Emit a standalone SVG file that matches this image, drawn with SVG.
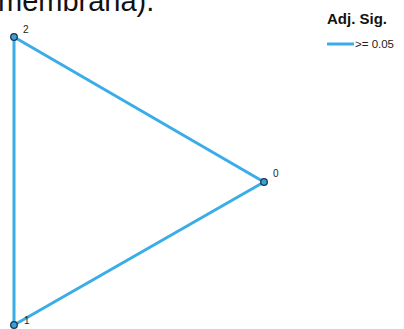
<svg xmlns="http://www.w3.org/2000/svg" width="404" height="329" viewBox="0 0 404 329">
<style>
.edge{stroke:#3aade8;stroke-width:3;fill:none;stroke-linecap:butt}
.node{fill:#3d9fd8;stroke:#1c3550;stroke-width:1.3}
.lbl{font-family:"Liberation Sans",Arial,sans-serif;font-size:10px;fill:#222}
</style>
<rect width="404" height="329" fill="#fff"/>
<text x="-2" y="11" font-family="Liberation Sans,Arial,sans-serif" font-size="29" fill="#111">membrana).</text>
<g id="edges">
<line class="edge" x1="14" y1="37" x2="264" y2="182"/>
<line class="edge" x1="14" y1="37" x2="14" y2="325"/>
<line class="edge" x1="264" y1="182" x2="14" y2="325"/>
</g>
<g id="node-2"><circle class="node" cx="14" cy="37" r="3.3"/><text class="lbl" x="23" y="33">2</text></g>
<g id="node-0"><circle class="node" cx="264" cy="182" r="3.3"/><text class="lbl" x="273" y="177">0</text></g>
<g id="node-1"><circle class="node" cx="14" cy="325" r="3.3"/><text class="lbl" x="24" y="324">1</text></g>
<g id="legend">
<text x="357" y="24" text-anchor="middle" font-family="Liberation Sans,Arial,sans-serif" font-size="15" font-weight="bold" fill="#111">Adj. Sig.</text>
<line class="edge" x1="327" y1="44" x2="354" y2="44"/>
<text x="355" y="48" font-family="Liberation Sans,Arial,sans-serif" font-size="11.5" fill="#222">&gt;= 0.05</text>
</g>
</svg>
